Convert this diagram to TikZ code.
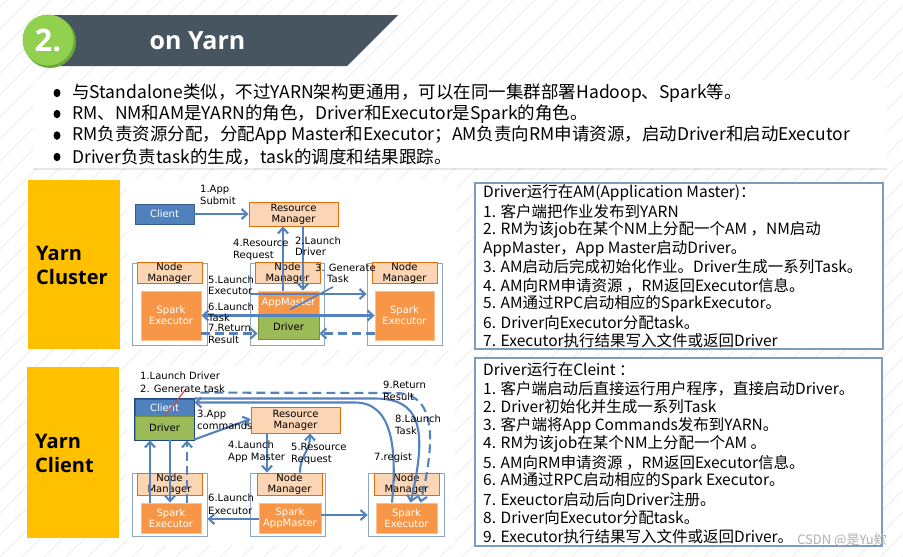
\documentclass[tikz,border=0pt]{standalone}
\usepackage{fontspec}
\setmainfont{Noto Sans CJK SC}
\newfontfamily\cjk{Noto Sans CJK SC}
\newfontfamily\dia{DejaVu Sans}
\newfontfamily\head{Open Sans}
\usetikzlibrary{arrows.meta,shadows}
\definecolor{arrowblue}{RGB}{84,130,190}
\definecolor{clientblue}{RGB}{79,129,189}
\definecolor{clientborder}{RGB}{56,93,138}
\definecolor{peach}{RGB}{252,213,181}
\definecolor{peachborder}{RGB}{228,108,10}
\definecolor{sparkorange}{RGB}{247,150,70}
\definecolor{sparkborder}{RGB}{250,191,143}
\definecolor{drivergreen}{RGB}{155,187,89}
\definecolor{driverborder}{RGB}{118,146,60}
\definecolor{contborder}{RGB}{141,166,196}
\definecolor{yellowbox}{RGB}{255,192,0}
\definecolor{headdark}{RGB}{71,85,97}
\definecolor{headgreen}{RGB}{146,208,80}
\definecolor{headgreendark}{RGB}{108,168,58}
\definecolor{textbord}{RGB}{127,157,185}
\definecolor{stripe}{RGB}{236,236,236}
\definecolor{outerblue}{RGB}{31,73,125}
\definecolor{redline}{RGB}{192,80,77}
\definecolor{wmgray}{RGB}{175,175,175}
\tikzset{
  box/.style={draw, line width=0.8pt, inner sep=0pt, align=center, font=\dia\fontsize{10}{11}\selectfont},
  clientbox/.style={box, fill=clientblue, draw=clientborder, text=white},
  rmbox/.style={box, fill=peach, draw=peachborder},
  sparkbox/.style={box, fill=sparkorange, draw=sparkborder, text=white},
  drvbox/.style={box, fill=drivergreen, draw=driverborder},
  contbox/.style={draw=contborder, line width=0.8pt, fill=white, inner sep=0pt},
  lbl/.style={anchor=north west, inner sep=0pt, align=left, font=\dia\fontsize{10}{11.5}\selectfont},
  tipb/.tip={Straight Barb[length=5.5pt,width=10pt]},
  flow/.style={draw=arrowblue, line width=2.1pt, -tipb},
  flowboth/.style={draw=arrowblue, line width=2.1pt, tipb-tipb},
  leader/.style={draw=arrowblue, line width=1.6pt},
  dash9/.style={dash pattern=on 9pt off 5pt},
  bulletdot/.style={ellipse, fill=black, minimum width=7pt, minimum height=8.5pt, inner sep=0pt},
  btext/.style={anchor=west, inner sep=0pt, font=\cjk\fontsize{17.5}{20}\selectfont},
  rtext/.style={anchor=west, inner sep=0pt, font=\cjk\fontsize{15.5}{18}\selectfont},
  ylabel/.style={anchor=west, inner sep=0pt, align=left, font=\head\bfseries\fontsize{20}{24}\selectfont},
  yellowpanel/.style={fill=yellowbox, inner sep=0pt},
  textpanel/.style={draw=textbord, line width=1.2pt, fill=white, inner sep=0pt},
  imgpanel/.style={fill=white, inner sep=0pt},
}
\usetikzlibrary{shapes.geometric}
\begin{document}
\begin{tikzpicture}[x=1pt,y=-1pt]
\useasboundingbox (0,0) rectangle (903,557);
% background stripes
\begin{scope}
\clip (0,0) rectangle (903,557);
\fill[white] (0,0) rectangle (903,557);
\foreach \i in {-30,...,45} {\draw[stripe, line width=1pt] (\i*22,557) -- (\i*22+557,0);}
\end{scope}
% header
\fill[headdark] (50,15) -- (398,15) -- (347,66) -- (50,66) -- cycle;
\node[circle, fill=headgreendark, minimum size=52pt, inner sep=0pt] (numshadow) at (50,42) {};
\node[circle, fill=headgreen, minimum size=51pt, inner sep=0pt, text=white, font=\head\bfseries\fontsize{31}{31}\selectfont] (num) at (48,40) {2.};
\node[text=white, font=\head\bfseries\fontsize{25}{25}\selectfont, inner sep=0pt] (title) at (197.5,41) {on Yarn};
% bullet box
\node[fill=white, drop shadow={opacity=0.18, shadow xshift=0pt, shadow yshift=-2pt}, minimum width=854pt, minimum height=88pt, inner sep=0pt] (bulletbox) at (460,124) {};
\node[bulletdot] (b1) at (57,93) {};
\node[bulletdot] (b2) at (57,114) {};
\node[bulletdot] (b3) at (57,135.5) {};
\node[bulletdot] (b4) at (57,157) {};
\node[btext] (t1) at (72,93) {与Standalone类似，不过YARN架构更通用，可以在同一集群部署Hadoop、Spark等。};
\node[btext] (t2) at (72,114) {RM、NM和AM是YARN的角色，Driver和Executor是Spark的角色。};
\node[btext] (t3) at (72,135.5) {RM负责资源分配，分配App Master和Executor；AM负责向RM申请资源，启动Driver和启动Executor};
\node[btext] (t4) at (72,157) {Driver负责task的生成，task的调度和结果跟踪。};
% yellow panels
\node[yellowpanel, minimum width=92pt, minimum height=169pt] (ycl) at (74,264.5) {};
\node[ylabel] (yclt) at (36,265) {Yarn\\Cluster};
\node[yellowpanel, minimum width=92pt, minimum height=171pt] (ycn) at (73,452.5) {};
\node[ylabel] (ycnt) at (35,453.5) {Yarn\\Client};
% image panels
\node[imgpanel, minimum width=330pt, minimum height=170pt] (img1) at (292,265) {};
\node[imgpanel, minimum width=328pt, minimum height=179pt] (img2) at (291,455.5) {};

% ===== Diagram 1: Yarn Cluster =====
\node[contbox, minimum width=75pt, minimum height=82pt] (c1L) at (169.5,304) {};
\node[contbox, minimum width=74pt, minimum height=82pt] (c1M) at (287,304) {};
\node[contbox, minimum width=75pt, minimum height=82pt] (c1R) at (404.5,304) {};
\node[rmbox, minimum width=65pt, minimum height=20pt] (nm1L) at (169.5,273) {Node\\Manager};
\node[rmbox, minimum width=65pt, minimum height=20pt] (nm1M) at (287.5,273) {Node\\Manager};
\node[rmbox, minimum width=65pt, minimum height=20pt] (nm1R) at (404.5,273) {Node\\Manager};
\node[clientbox, minimum width=59pt, minimum height=20pt] (cl1) at (164.5,214) {Client};
\node[rmbox, minimum width=89pt, minimum height=24pt] (rm1) at (293.5,214) {Resource\\Manager};
\node[sparkbox, minimum width=60pt, minimum height=49pt] (ex1L) at (171,315.5) {Spark\\Executor};
\node[sparkbox, minimum width=59pt, minimum height=49pt] (ex1R) at (404.5,315.5) {Spark\\Executor};
\node[sparkbox, minimum width=61pt, minimum height=23pt] (am1) at (288.5,302.5) {AppMaster};
\node[drvbox, minimum width=61pt, minimum height=25pt] (dr1) at (288.5,326.5) {Driver};
\coordinate (g1) at (333,287);
\draw[flow] (cl1.east) -- (rm1.west);
\draw[flow] ([xshift=-5.5pt]am1.north) -- ([xshift=-10.5pt]rm1.south);
\draw[flow] ([xshift=9.5pt]rm1.south) -- ([xshift=14.5pt]am1.north);
\draw[flow] ([yshift=10pt]c1M.west) -- ([yshift=10pt]c1R.west);
\draw[flowboth] (ex1L.east) -- (ex1R.west);
\draw[leader] ([xshift=1.5pt,yshift=4pt]dr1.north) -- (g1);
\draw[flow, dash9] ([yshift=-18pt]ex1L.east) -- ([yshift=-7pt]dr1.west);
\draw[flow, dash9] ([yshift=-18pt]ex1R.west) -- ([yshift=-7pt]dr1.east);
\node[lbl] (l1a) at (200,185.5) {1.App\\Submit};
\node[lbl] (l1b) at (233,239.5) {4.Resource\\Request};
\node[lbl] (l1c) at (295,236.5) {2.Launch\\Driver};
\node[lbl] (l1d) at (208,275.5) {5.Launch\\Executor};
\node[lbl] (l1e) at (208,302.5) {6.Launch\\Task};
\node[lbl] (l1f) at (208,324.5) {7.Return\\Result};
\node[lbl] (l1g) at (315,263.5) {3. Generate\\\hspace*{12pt}Task};

% ===== Diagram 2: Yarn Client =====
\node[contbox, minimum width=75pt, minimum height=63pt] (c2L) at (169.5,504.5) {};
\node[contbox, minimum width=75pt, minimum height=63pt] (c2M) at (287.5,504.5) {};
\node[contbox, minimum width=76pt, minimum height=63pt] (c2R) at (406,504.5) {};
\node[rmbox, minimum width=65pt, minimum height=22pt] (nm2L) at (169.5,484) {Node\\Manager};
\node[rmbox, minimum width=65pt, minimum height=22pt] (nm2M) at (289.5,484) {Node\\Manager};
\node[rmbox, minimum width=65pt, minimum height=22pt] (nm2R) at (406.5,484) {Node\\Manager};
\node[sparkbox, minimum width=60pt, minimum height=30pt] (ex2L) at (171,518) {Spark\\Executor};
\node[sparkbox, minimum width=62pt, minimum height=30pt] (am2) at (290,518) {Spark\\AppMaster};
\node[sparkbox, minimum width=61pt, minimum height=30pt] (ex2R) at (406.5,518) {Spark\\Executor};
\node[clientbox, minimum width=59pt, minimum height=17pt] (cl2) at (164.5,407.5) {Client};
\node[drvbox, minimum width=59pt, minimum height=24pt] (dr2) at (164.5,428) {Driver};
\draw[draw=outerblue, line width=1.3pt] (cl2.north west) rectangle (dr2.south east);
\node[rmbox, minimum width=89pt, minimum height=26pt] (rm2) at (295.5,420) {Resource\\Manager};
\coordinate (g2) at (186,389);
\coordinate (c7) at (355,402.5);
\coordinate (c8) at (375,398.5);
\coordinate (c9) at (395,393);
\draw[redline, line width=1.2pt] (cl2.south) -- (g2);
\draw[flow] ([yshift=-11.5pt]dr2.east) -- ([yshift=1pt]rm2.west);
\draw[flow] ([xshift=-28.5pt]rm2.south) -- ([xshift=-22.5pt]nm2M.north);
\draw[flow] ([xshift=10.5pt]nm2M.north) .. controls (300,455) and (310,452) .. ([xshift=14.5pt]rm2.south);
\draw[flow] ([yshift=-1pt]am2.west) -- ([yshift=-14.5pt]c2L.east);
\draw[flow] ([yshift=3pt]am2.east) -- ([yshift=-10.5pt]c2R.west);
\draw[flow] ([xshift=-21pt]ex2L.north) -- ([xshift=-14.5pt]dr2.south);
\draw[flow] ([xshift=5.5pt]dr2.south) -- ([xshift=-1pt]ex2L.north);
\draw[flow, dash9] ([xshift=16pt]ex2L.north) -- ([xshift=22.5pt]dr2.south);
\draw[flow] ([xshift=-14.5pt]ex2R.north) .. controls (397,450) and (393,402.5) .. (c7) -- ([yshift=5pt]cl2.east);
\draw[flow] ([yshift=9pt]cl2.east) -- (c8) .. controls (420,398.5) and (428,428) .. ([xshift=4pt]ex2R.north);
\draw[flow, dash9] ([xshift=6pt,yshift=6pt]cl2.north east) -- (c9) .. controls (432,393) and (438,430) .. ([xshift=14pt]ex2R.north);
\node[lbl, font=\dia\fontsize{10}{13}\selectfont] (l2a) at (140,371.5) {1.Launch Driver\\2. Generate task};
\node[lbl, font=\dia\fontsize{10}{12}\selectfont] (l2b) at (197,409.5) {3.App\\commands};
\node[lbl, font=\dia\fontsize{10}{12}\selectfont] (l2c) at (228,440.5) {4.Launch\\App Master};
\node[lbl, font=\dia\fontsize{10}{12}\selectfont] (l2d) at (291,443.5) {5.Resource\\Request};
\node[lbl, font=\dia\fontsize{10}{13}\selectfont] (l2e) at (208,493.5) {6.Launch\\Executor};
\node[lbl] (l2f) at (374,452.5) {7.regist};
\node[lbl, font=\dia\fontsize{10}{12}\selectfont] (l2g) at (395,414.5) {8.Launch\\Task};
\node[lbl, font=\dia\fontsize{10}{12}\selectfont] (l2h) at (383,380.5) {9.Return\\Result};

% ===== Right text boxes =====
\node[textpanel, minimum width=408pt, minimum height=166pt] (rb1) at (679,266) {};
\node[rtext] (r1a) at (483,193) {Driver运行在AM(Application Master)：};
\node[rtext] (r1b) at (483,211.5) {1. 客户端把作业发布到YARN};
\node[rtext] (r1c) at (483,230) {2. RM为该job在某个NM上分配一个AM ，NM启动};
\node[rtext] (r1d) at (483,248.5) {AppMaster，App Master启动Driver。};
\node[rtext] (r1e) at (483,267) {3. AM启动后完成初始化作业。Driver生成一系列Task。};
\node[rtext] (r1f) at (483,285.5) {4. AM向RM申请资源 ，RM返回Executor信息。};
\node[rtext] (r1g) at (483,304) {5. AM通过RPC启动相应的SparkExecutor。};
\node[rtext] (r1h) at (483,322.5) {6. Driver向Executor分配task。};
\node[rtext] (r1i) at (483,341) {7. Executor执行结果写入文件或返回Driver};

\node[textpanel, minimum width=407pt, minimum height=188pt] (rb2) at (678.5,452) {};
\node[rtext] (r2a) at (483,370) {Driver运行在Cleint ：};
\node[rtext] (r2b) at (483,388.5) {1. 客户端启动后直接运行用户程序，直接启动Driver。};
\node[rtext] (r2c) at (483,407) {2. Driver初始化并生成一系列Task};
\node[rtext] (r2d) at (483,425.5) {3. 客户端将App Commands发布到YARN。};
\node[rtext] (r2e) at (483,444) {4. RM为该job在某个NM上分配一个AM 。};
\node[rtext] (r2f) at (483,462.5) {5. AM向RM申请资源 ，RM返回Executor信息。};
\node[rtext] (r2g) at (483,481) {6. AM通过RPC启动相应的Spark Executor。};
\node[rtext] (r2h) at (483,499.5) {7. Exeuctor启动后向Driver注册。};
\node[rtext] (r2i) at (483,518) {8. Driver向Executor分配task。};
\node[rtext] (r2j) at (483,536.5) {9. Executor执行结果写入文件或返回Driver。};
\node[text=wmgray, font=\cjk\fontsize{13}{13}\selectfont, anchor=east, inner sep=0pt] (wm) at (887,540) {CSDN @是Yu欸};
\end{tikzpicture}
\end{document}
